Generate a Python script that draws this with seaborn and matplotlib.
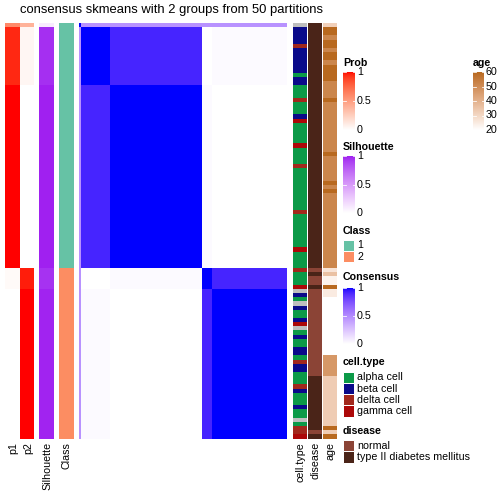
import numpy as np
import matplotlib
matplotlib.use("Agg")
import matplotlib.pyplot as plt
from matplotlib.colors import ListedColormap, to_rgb
from matplotlib.patches import Rectangle
import seaborn as sns

TITLE = "consensus skmeans with 2 groups from 50 partitions"

# samples are drawn in blocks (unclear sample, then 2 sub-blocks per class)
block_sizes = [1, 14, 44, 5, 36]
block_class = [1, 1, 1, 2, 2]
block_p1 = [0.60, 0.95, 1.00, 0.03, 0.00]
block_p2 = [0.40, 0.05, 0.00, 0.97, 1.00]
block_silhouette = [0.10, 0.96, 1.00, 0.95, 0.99]
block_consensus = [
    [1.00, 0.47, 0.47, 0.47, 0.47],
    [0.47, 1.00, 0.92, 0.00, 0.02],
    [0.47, 0.92, 1.00, 0.02, 0.00],
    [0.47, 0.00, 0.02, 1.00, 0.92],
    [0.47, 0.02, 0.00, 0.92, 1.00],
]

# per sample annotations, one character per sample (top to bottom)
cell_type_codes = ("nbbbbdbbbbbbabbaaada"
                   "aabgaaaaagaaaadaaaaa"
                   "aaaaadaaaaaaaagaaaad"
                   "aaagnbanbaabgnabaabb"
                   "adbbaaadbaaabaanaddg")
cell_type_names = {"a": "alpha cell", "b": "beta cell", "d": "delta cell", "g": "gamma cell", "n": "NA"}
disease_codes = ("tttttttttttttttttttt"
                 "tttttttttttttttttttt"
                 "tttttttttttttttttttn"
                 "tnntnnnnnnnnnnnnnnnn"
                 "nnnnntttttttttttttnt")
disease_names = {"n": "normal", "t": "type II diabetes mellitus"}
age = [32, 60, 60, 52, 60, 60, 52, 60, 60, 52,
       60, 60, 60, 60, 52, 52, 52, 52, 60, 52,
       52, 52, 52, 52, 52, 52, 52, 52, 52, 52,
       52, 60, 52, 52, 52, 52, 52, 52, 60, 52,
       60, 52, 52, 52, 52, 52, 52, 52, 52, 52,
       52, 52, 52, 52, 52, 52, 52, 52, 52, 27,
       36, 23, 23, 60, 25, 25, 20, 20, 20, 20,
       20, 20, 20, 20, 20, 20, 20, 20, 20, 20,
       47, 47, 47, 47, 47, 33, 33, 33, 33, 33,
       33, 33, 33, 33, 33, 33, 33, 60, 33, 60]

class_colors = {1: "#66C2A5", 2: "#FC8D62"}
cell_type_colors = {"alpha cell": "#0C9A48", "beta cell": "#0A0A8A", "delta cell": "#A2281C",
                    "gamma cell": "#AC0808", "NA": "#BEBEBE"}
disease_colors = {"normal": "#8B4436", "type II diabetes mellitus": "#4A2418"}
age_color = "#B8691F"

FS = 10.6


def lab_ramp(c0, c1, n=256):
    # colour ramp interpolated in LAB space like circlize::colorRamp2
    M = np.array([[0.4124, 0.3576, 0.1805], [0.2126, 0.7152, 0.0722], [0.0193, 0.1192, 0.9505]])
    wp = np.array([0.95047, 1.0, 1.08883])

    def to_lab(c):
        rgb = np.array(to_rgb(c))
        lin = np.where(rgb <= 0.04045, rgb / 12.92, ((rgb + 0.055) / 1.055) ** 2.4)
        xyz = M @ lin / wp
        f = np.where(xyz > 0.008856, np.cbrt(xyz), 7.787 * xyz + 16 / 116)
        return np.array([116 * f[1] - 16, 500 * (f[0] - f[1]), 200 * (f[1] - f[2])])

    l0, l1 = to_lab(c0), to_lab(c1)
    t = np.linspace(0, 1, n)[:, None]
    lab = l0 + (l1 - l0) * t
    fy = (lab[:, 0] + 16) / 116
    f = np.stack([fy + lab[:, 1] / 500, fy, fy - lab[:, 2] / 200], axis=1)
    xyz = np.where(f ** 3 > 0.008856, f ** 3, (f - 16 / 116) / 7.787) * wp
    lin = xyz @ np.linalg.inv(M).T
    lin = np.clip(lin, 0, 1)
    rgb = np.where(lin <= 0.0031308, lin * 12.92, 1.055 * lin ** (1 / 2.4) - 0.055)
    return ListedColormap(np.clip(rgb, 0, 1))


prob_cmap = lab_ramp("white", "red")
sil_cmap = lab_ramp("white", "#A020F0")
cons_cmap = lab_ramp("white", "blue")
age_cmap = lab_ramp("white", age_color)

idx = np.repeat(np.arange(len(block_sizes)), block_sizes)
consensus = np.array(block_consensus)[idx][:, idx]
probs = np.column_stack([np.array(block_p1)[idx], np.array(block_p2)[idx]])
silhouette = np.array(block_silhouette)[idx][:, None]
classes = np.array(block_class)[idx]
cell_type = [cell_type_names[c] for c in cell_type_codes]
disease = [disease_names[c] for c in disease_codes]

plt.rcParams["font.family"] = ["Liberation Sans", "DejaVu Sans"]
W = H = 504
fig = plt.figure(figsize=(7, 7), dpi=72)
TOP, BOT = 23, 438.5


def px_axes(x0, x1, y0=TOP, y1=BOT):
    return fig.add_axes([x0 / W, 1 - y1 / H, (x1 - x0) / W, (y1 - y0) / H])


def draw(ax, data, cmap, vmin, vmax):
    sns.heatmap(data, ax=ax, cmap=cmap, vmin=vmin, vmax=vmax, cbar=False,
                xticklabels=False, yticklabels=False)
    ax.set_xlabel("")
    ax.set_ylabel("")


def categorical(ax, values, colors):
    keys = list(colors.keys())
    codes = np.array([keys.index(v) for v in values])[:, None]
    draw(ax, codes, ListedColormap([colors[k] for k in keys]), -0.5, len(keys) - 0.5)


draw(px_axes(5, 34), probs, prob_cmap, 0, 1)
draw(px_axes(39, 54), silhouette, sil_cmap, 0, 1)
categorical(px_axes(59, 74), list(classes), class_colors)
draw(px_axes(79, 287), consensus, cons_cmap, 0, 1)
categorical(px_axes(293, 307), cell_type, cell_type_colors)
categorical(px_axes(308, 322), disease, disease_colors)
draw(px_axes(323, 337), np.array(age)[:, None], age_cmap, 20, 60)

# overlay in pixel coordinates for titles, names and legends
lg = fig.add_axes([0, 0, 1, 1])
lg.axis("off")

lg.text(171, 10, TITLE, ha="center", va="center", fontsize=13)

for name, xc in [("p1", 13), ("p2", 28), ("Silhouette", 47), ("Class", 67),
                 ("cell.type", 300.5), ("disease", 315.5), ("age", 330.5)]:
    lg.text(xc, 442, name, rotation=90, ha="center", va="top", fontsize=FS)


def grad_legend(x0, title, title_y, y0, y1, cmap, vmin, vmax, ticks, width=12):
    lg.text(x0, title_y, title, ha="left", va="center", fontsize=FS, fontweight="bold")
    grad = np.linspace(vmax, vmin, 256)[:, None]
    lg.imshow(grad, extent=(x0, x0 + width, y1, y0), aspect="auto", cmap=cmap,
              vmin=vmin, vmax=vmax, origin="upper")
    for t in ticks:
        y = y1 - (t - vmin) / (vmax - vmin) * (y1 - y0)
        lg.plot([x0, x0 + 2.5], [y, y], color="white", lw=0.8)
        lg.plot([x0 + width - 2.5, x0 + width], [y, y], color="white", lw=0.8)
        lg.text(x0 + width + 2, y, f"{t:g}", ha="left", va="center", fontsize=FS)


def box_legend(x0, title, title_y, y0, items, colors):
    lg.text(x0, title_y, title, ha="left", va="center", fontsize=FS, fontweight="bold")
    for i, item in enumerate(items):
        y = y0 + i * 11.3
        lg.add_patch(Rectangle((x0, y), 11.3, 11.3, facecolor=colors[item], edgecolor="white", lw=1))
        lg.text(x0 + 14, y + 5.8, str(item), ha="left", va="center", fontsize=FS)


grad_legend(343, "Prob", 63, 72, 130, prob_cmap, 0, 1, [0, 0.5, 1])
grad_legend(343, "Silhouette", 147, 156, 213, sil_cmap, 0, 1, [0, 0.5, 1])
box_legend(343, "Class", 231, 239.5, [1, 2], class_colors)
grad_legend(343, "Consensus", 277, 288, 344, cons_cmap, 0, 1, [0, 0.5, 1])
box_legend(343, "cell.type", 362, 371.5, ["alpha cell", "beta cell", "delta cell", "gamma cell"],
           cell_type_colors)
box_legend(343, "disease", 431, 440, ["normal", "type II diabetes mellitus"], disease_colors)
grad_legend(473, "age", 63, 72, 130, age_cmap, 20, 60, [20, 30, 40, 50, 60], width=11)

lg.set_xlim(0, W)
lg.set_ylim(H, 0)

fig.savefig("out.png", dpi=72)
